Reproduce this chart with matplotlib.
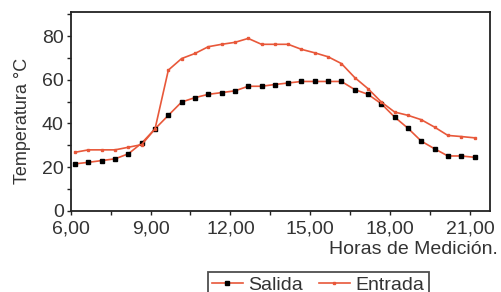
import matplotlib
matplotlib.use("Agg")
import matplotlib.pyplot as plt
from matplotlib.ticker import MultipleLocator, FuncFormatter

plt.rcParams['font.family'] = ['Liberation Sans', 'DejaVu Sans']

# mediciones cada media hora
horas = [6.17 + 0.5 * i for i in range(31)]
salida = [21.5, 22.2, 23.0, 23.8, 26.1, 31.0, 37.5, 43.7, 49.8, 51.8, 53.3,
          54.1, 54.9, 57.0, 57.0, 57.8, 58.5, 59.2, 59.2, 59.2, 59.2, 55.5,
          53.3, 49.0, 42.9, 37.8, 31.9, 28.4, 25.1, 25.1, 24.5]
entrada = [26.8, 27.9, 27.9, 27.9, 29.1, 30.3, 37.5, 64.4, 69.7, 72.0, 75.1,
           76.2, 77.1, 78.9, 76.2, 76.2, 76.2, 73.9, 72.3, 70.5, 67.4, 61.0,
           55.9, 49.8, 45.2, 43.7, 41.7, 38.3, 34.5, 34.0, 33.4]

LINE = "#e8583a"
TXT = "#333333"

fig = plt.figure(figsize=(5.01, 2.92), dpi=100)
ax = fig.add_axes([0.141, 0.278, 0.838, 0.681])

ax.plot(horas, salida, color=LINE, lw=1.2, marker='s', ms=2.2,
        mfc='black', mec='black', label='Salida')
ax.plot(horas, entrada, color=LINE, lw=1.2, marker='s', ms=1.8,
        mfc=LINE, mec=LINE, label='Entrada')

ax.set_xlim(6, 21.77)
ax.set_ylim(0, 91)
ax.xaxis.set_major_locator(MultipleLocator(3))
ax.xaxis.set_minor_locator(MultipleLocator(1.5))
ax.yaxis.set_major_locator(MultipleLocator(20))
ax.yaxis.set_minor_locator(MultipleLocator(10))
ax.xaxis.set_major_formatter(FuncFormatter(lambda v, p: f"{v:.2f}".replace(".", ",")))
ax.tick_params(which='both', direction='out', length=3, width=1, colors='#222222',
               labelsize=14, labelcolor=TXT, pad=2)
ax.tick_params(axis='x', pad=4)
for s in ax.spines.values():
    s.set_linewidth(1.3)
    s.set_color('#222222')

fig.text(23 / 501, 1 - 121 / 292, "Temperatura °C", rotation=90, ha='center', va='center',
         fontsize=13, color=TXT)
fig.text(0.993, 1 - 250 / 292, "Horas de Medición.", ha='right', va='center',
         fontsize=14, color=TXT)

leg = fig.legend(loc='upper center', bbox_to_anchor=(0.635, 1 - 272 / 292), ncol=2,
                 fontsize=14, frameon=True, fancybox=False, edgecolor='#222222',
                 handlelength=1.6, handletextpad=0.3, columnspacing=0.8,
                 borderpad=0.2, borderaxespad=0)
leg.get_frame().set_linewidth(1.3)
for t in leg.get_texts():
    t.set_color(TXT)

fig.savefig("out.png", dpi=100)
